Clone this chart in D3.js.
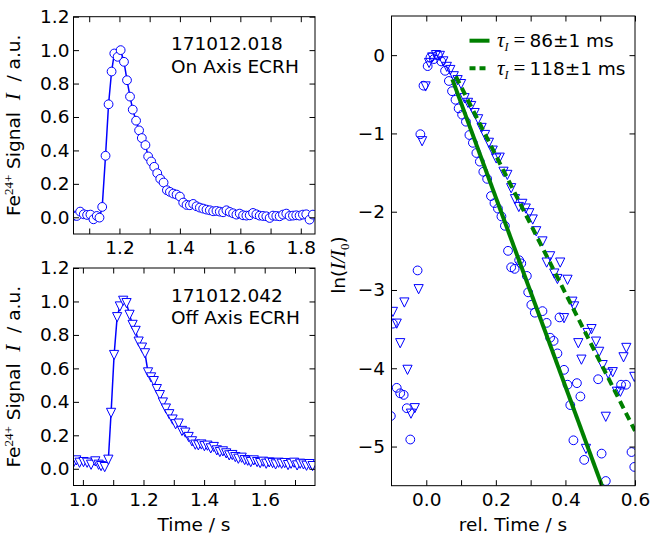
<!DOCTYPE html>
<html><head><meta charset="utf-8">
<script src="https://cdn.jsdelivr.net/npm/d3@7"></script>
<style>
body{margin:0;background:#fff;}
svg text{font-family:"DejaVu Sans",sans-serif;fill:#000;}
</style></head><body>
<svg id="c" width="651" height="536"></svg>
<script>
// ---------------- data ----------------
const onTime = [1.050,1.059,1.070,1.082,1.093,1.104,1.114,1.125,1.134,1.143,1.154,1.164,1.174,1.183,1.194,1.204,1.215,1.225,1.235,1.244,1.255,1.265,1.274,1.286,1.295,1.305,1.315,1.325,1.335,1.346,1.357,1.367,1.378,1.389,1.400,1.411,1.422,1.433,1.444,1.455,1.466,1.477,1.488,1.499,1.510,1.521,1.532,1.543,1.554,1.565,1.576,1.587,1.598,1.609,1.620,1.631,1.642,1.653,1.664,1.675,1.686,1.697,1.708,1.719,1.730,1.741,1.752,1.763,1.774,1.785,1.796,1.807,1.818,1.829,1.840];
const onSignal = [0.010,0.008,0.034,0.018,0.014,0.016,-0.012,0.008,-0.002,0.062,0.368,0.676,0.872,0.98,0.96,1.0,0.93,0.82,0.722,0.644,0.578,0.52,0.474,0.432,0.364,0.334,0.302,0.264,0.23,0.208,0.162,0.152,0.142,0.136,0.124,0.088,0.074,0.072,0.08,0.066,0.058,0.052,0.046,0.042,0.036,0.038,0.034,0.03,0.042,0.032,0.024,0.016,0.022,0.012,0.01,0.012,0.026,0.018,0.01,0.008,0.006,-0.004,0.01,0.008,0.006,0.016,0.022,0.008,0.01,0.012,0.01,0.016,0.018,-0.014,0.016];

const offTime = [0.970,0.978,0.989,1.002,1.014,1.027,1.041,1.052,1.060,1.072,1.084,1.093,1.103,1.113,1.122,1.133,1.144,1.154,1.164,1.174,1.184,1.195,1.205,1.215,1.225,1.234,1.244,1.254,1.264,1.274,1.285,1.296,1.306,1.316,1.327,1.338,1.349,1.360,1.371,1.381,1.391,1.401,1.411,1.422,1.432,1.442,1.452,1.462,1.473,1.483,1.493,1.503,1.513,1.524,1.534,1.544,1.554,1.564,1.575,1.585,1.595,1.605,1.615,1.626,1.636,1.646,1.656,1.666,1.677,1.687,1.697,1.707,1.717,1.728,1.738,1.748,1.758];
const offSignal = [0.04,0.05,0.036,0.04,0.036,0.024,0.044,0.024,0.016,0.01,0.054,0.334,0.68,0.906,0.97,1.004,0.99,0.92,0.86,0.824,0.76,0.724,0.69,0.576,0.546,0.524,0.476,0.44,0.396,0.36,0.326,0.294,0.266,0.27,0.226,0.216,0.19,0.164,0.144,0.14,0.145,0.135,0.138,0.122,0.13,0.11,0.1,0.104,0.092,0.08,0.082,0.07,0.06,0.066,0.052,0.048,0.04,0.05,0.04,0.034,0.042,0.03,0.038,0.034,0.026,0.036,0.03,0.034,0.022,0.03,0.036,0.02,0.03,0.026,0.018,0.028,0.016];

const relOnTime = [-0.102,-0.096,-0.085,-0.075,-0.065,-0.056,-0.046,-0.025,-0.017,-0.008,0.004,0.012,0.022,0.033,0.043,0.054,0.065,0.074,0.084,0.093,0.103,0.114,0.124,0.134,0.144,0.154,0.164,0.175,0.186,0.196,0.206,0.216,0.226,0.235,0.244,0.254,0.267,0.273,0.289,0.293,0.302,0.312,0.334,0.346,0.356,0.366,0.377,0.383,0.396,0.406,0.414,0.423,0.433,0.443,0.454,0.494,0.504,0.516,0.56,0.574,0.59,0.598];
const lnOn = [-4.61,-3.43,-4.25,-4.32,-4.34,-4.51,-4.91,-2.75,-1.01,-0.39,-0.14,-0.03,-0.05,0.0,-0.08,-0.2,-0.33,-0.46,-0.57,-0.68,-0.76,-0.85,-1.02,-1.12,-1.25,-1.36,-1.49,-1.58,-1.80,-1.89,-1.96,-2.06,-2.18,-2.50,-2.71,-2.73,-2.62,-2.66,-2.82,-3.03,-3.19,-3.29,-3.27,-3.42,-3.61,-3.65,-3.81,-3.35,-4.02,-4.21,-4.47,-4.92,-4.19,-4.36,-5.17,-4.14,-5.09,-5.44,-4.21,-4.21,-5.07,-5.26];

const relOffTime = [-0.096,-0.085,-0.075,-0.063,-0.054,-0.044,-0.033,-0.022,-0.012,-0.002,0.008,0.017,0.028,0.039,0.049,0.059,0.069,0.079,0.09,0.1,0.11,0.12,0.129,0.139,0.149,0.159,0.169,0.18,0.191,0.201,0.211,0.222,0.233,0.244,0.255,0.266,0.276,0.286,0.296,0.306,0.316,0.334,0.346,0.356,0.368,0.377,0.385,0.396,0.406,0.42,0.425,0.437,0.446,0.459,0.464,0.475,0.488,0.497,0.507,0.516,0.523,0.536,0.548,0.558,0.567,0.575,0.598];
const lnOff = [-3.28,-3.43,-3.68,-3.16,-4.02,-4.58,-4.51,-2.99,-1.10,-0.40,-0.10,-0.03,0.0,-0.01,-0.08,-0.15,-0.19,-0.27,-0.32,-0.37,-0.55,-0.61,-0.65,-0.74,-0.82,-0.93,-1.02,-1.12,-1.22,-1.32,-1.31,-1.49,-1.53,-1.70,-1.84,-1.94,-1.90,-1.96,-2.02,-2.10,-2.25,-2.38,-2.65,-2.57,-2.79,-2.86,-2.65,-3.36,-2.87,-3.15,-3.21,-3.68,-3.89,-5.03,-3.55,-3.50,-3.66,-3.79,-3.96,-4.62,-4.07,-4.05,-4.30,-4.30,-3.86,-3.74,-4.11];

const fitOnTime = [0.075, 0.505];
const fitOnLn = [-0.31, -5.5];
const fitOffTime = [0.085, 0.60];
const fitOffLn = [-0.27, -4.8];

const legendValues = ["86\u00b11 ms", "118\u00b11 ms"];
const shotLabels = [["171012.018", "On Axis ECRH"], ["171012.042", "Off Axis ECRH"]];
const signalTicks = [0.0, 0.2, 0.4, 0.6, 0.8, 1.0, 1.2];
const topTimeTicks = [1.1, 1.2, 1.3, 1.4, 1.5, 1.6, 1.7, 1.8];
const topTimeLabels = [1.2, 1.4, 1.6, 1.8];
const bottomTimeTicks = [1.0, 1.1, 1.2, 1.3, 1.4, 1.5, 1.6, 1.7];
const bottomTimeLabels = [1.0, 1.2, 1.4, 1.6];
const relTicks = [0.0, 0.1, 0.2, 0.3, 0.4, 0.5, 0.6];
const relLabels = [0.0, 0.2, 0.4, 0.6];
const lnTicks = [0, -1, -2, -3, -4, -5];

// ---------------- drawing ----------------
const svg = d3.select("#c");
const BLUE = "#0000ff", GREEN = "#008000";
const FS = 18.5, TICK = 5.5;
const SERIF = "'Liberation Serif','DejaVu Serif',serif";

function approx(a, list) { return list.some(v => Math.abs(v - a) < 1e-6); }

function frameAxes(g, x, y, xt, xl, yt, yl, xfmt, yfmt, xpad, ypad) {
  const [x0, x1] = x.range(), [y0, y1] = y.range();
  const style = sel => {
    sel.select(".domain").remove();
    sel.selectAll("line").attr("stroke", "#000").attr("stroke-width", 1);
    sel.selectAll("text").attr("font-size", FS).attr("font-family", "DejaVu Sans").attr("fill", "#000");
  };
  g.append("g").attr("transform", `translate(0,${y0})`)
    .call(d3.axisBottom(x).tickValues(xt).tickSize(-TICK).tickPadding(xpad)
      .tickFormat(d => approx(d, xl) ? xfmt(d) : "")).call(style);
  g.append("g").attr("transform", `translate(0,${y1})`)
    .call(d3.axisTop(x).tickValues(xt).tickSize(-TICK).tickFormat("")).call(style);
  g.append("g").attr("transform", `translate(${x0},0)`)
    .call(d3.axisLeft(y).tickValues(yt).tickSize(-TICK).tickPadding(ypad)
      .tickFormat(d => approx(d, yl) ? yfmt(d) : "")).call(style);
  g.append("g").attr("transform", `translate(${x1},0)`)
    .call(d3.axisRight(y).tickValues(yt).tickSize(-TICK).tickFormat("")).call(style);
  g.append("rect").attr("x", x0).attr("y", y1).attr("width", x1 - x0).attr("height", y0 - y1)
    .attr("fill", "none").attr("stroke", "#000").attr("stroke-width", 1);
}

function clip(id, x, y) {
  const [x0, x1] = x.range(), [y0, y1] = y.range();
  svg.append("clipPath").attr("id", id).append("rect")
    .attr("x", x0).attr("y", y1).attr("width", x1 - x0).attr("height", y0 - y1);
  return `url(#${id})`;
}

const circlePath = r => `M${r},0A${r},${r} 0 1,1 ${-r},0A${r},${r} 0 1,1 ${r},0Z`;
const triPath = r => `M0,${r}L${-r},${-r}L${r},${-r}Z`;

function signalLabel(cx, cy) {
  const t = svg.append("text").attr("transform", `translate(${cx},${cy}) rotate(-90)`)
    .attr("text-anchor", "middle").attr("font-size", FS);
  t.append("tspan").text("Fe");
  t.append("tspan").attr("font-family", SERIF).attr("font-size", 13).attr("dy", "-7.5").text("24+");
  t.append("tspan").attr("dy", "7.5").text("\u00a0Signal\u00a0\u00a0");
  t.append("tspan").attr("font-family", SERIF).attr("font-style", "italic").attr("font-size", 21).text("I");
  t.append("tspan").text("\u00a0\u00a0/ a.u.");
}

function leftPanel(times, vals, xDomain, range, xt, xl, shape, shot, id) {
  const x = d3.scaleLinear().domain(xDomain).range([73.5, 315]);
  const y = d3.scaleLinear().domain([-0.1, 1.2]).range(range);
  const g = svg.append("g");
  const pts = d3.zip(times, vals);
  const cg = g.append("g").attr("clip-path", clip(id, x, y));
  cg.append("path").datum(pts)
    .attr("d", d3.line().x(d => x(d[0])).y(d => y(d[1])))
    .attr("fill", "none").attr("stroke", BLUE).attr("stroke-width", 1.5);
  cg.selectAll("path.m").data(pts).join("path").attr("class", "m")
    .attr("transform", d => `translate(${x(d[0])},${y(d[1])})`)
    .attr("d", shape === "o" ? circlePath(4.4) : triPath(4.6))
    .attr("fill", "#fff").attr("stroke", BLUE).attr("stroke-width", 1);
  frameAxes(g, x, y, xt, xl, signalTicks, signalTicks, d3.format(".1f"), d3.format(".1f"), 7, 4);
  const tx = g.append("text").attr("x", 171).attr("y", y(1.2) + 33.5).attr("font-size", FS);
  tx.append("tspan").attr("x", 171).text(shot[0]);
  tx.append("tspan").attr("x", 171).attr("dy", 22.5).text(shot[1]);
  signalLabel(20, (range[0] + range[1]) / 2);
  return g;
}

leftPanel(onTime, onSignal, [1.048, 1.847], [234, 16.7], topTimeTicks, topTimeLabels, "o", shotLabels[0], "clipTop");
leftPanel(offTime, offSignal, [0.969, 1.766], [485.5, 268], bottomTimeTicks, bottomTimeLabels, "v", shotLabels[1], "clipBot");

svg.append("text").attr("x", 194).attr("y", 531).attr("text-anchor", "middle").attr("font-size", FS).text("Time / s");

// right panel
{
  const x = d3.scaleLinear().domain([-0.1, 0.6]).range([391.5, 635]);
  const y = d3.scaleLinear().domain([-5.5, 0.5]).range([485.7, 16]);
  const g = svg.append("g");
  const cg = g.append("g").attr("clip-path", clip("clipR", x, y));
  cg.selectAll("path.c").data(d3.zip(relOnTime, lnOn)).join("path").attr("class", "c")
    .attr("transform", d => `translate(${x(d[0])},${y(d[1])})`)
    .attr("d", circlePath(4.4)).attr("fill", "none").attr("stroke", BLUE).attr("stroke-width", 1);
  cg.selectAll("path.t").data(d3.zip(relOffTime, lnOff)).join("path").attr("class", "t")
    .attr("transform", d => `translate(${x(d[0])},${y(d[1])})`)
    .attr("d", triPath(4.6)).attr("fill", "none").attr("stroke", BLUE).attr("stroke-width", 1);
  const ln = d3.line().x(d => x(d[0])).y(d => y(d[1]));
  cg.append("path").datum(d3.zip(fitOnTime, fitOnLn)).attr("d", ln)
    .attr("fill", "none").attr("stroke", GREEN).attr("stroke-width", 4);
  cg.append("path").datum(d3.zip(fitOffTime, fitOffLn)).attr("d", ln)
    .attr("fill", "none").attr("stroke", GREEN).attr("stroke-width", 4).attr("stroke-dasharray", "8,5");
  const minus = d => d === 0 ? "0" : "\u2212" + Math.abs(d);
  frameAxes(g, x, y, relTicks, relLabels, lnTicks, lnTicks, d3.format(".1f"), minus, 7, 6.5);

  // legend
  const ly = [40.7, 68.3];
  ly.forEach((yy, i) => {
    g.append("line").attr("x1", 469.5).attr("x2", 489.5).attr("y1", yy).attr("y2", yy)
      .attr("stroke", GREEN).attr("stroke-width", 4).attr("stroke-dasharray", i ? "6,4" : null);
    const t = g.append("text").attr("x", 497).attr("y", yy + 6.5).attr("font-size", FS);
    t.append("tspan").attr("font-family", SERIF).attr("font-style", "italic").attr("font-size", 21).text("\u03c4");
    t.append("tspan").attr("font-family", SERIF).attr("font-style", "italic").attr("font-size", 12).attr("dy", 4).text("I");
    t.append("tspan").attr("font-family", SERIF).attr("font-size", 21).attr("dy", -4).attr("dx", 5).text("=");
    t.append("tspan").attr("dx", 4).text(legendValues[i]);
  });

  const yl = svg.append("text").attr("transform", `translate(345,265) rotate(-90)`)
    .attr("text-anchor", "middle").attr("font-size", FS);
  yl.append("tspan").text("ln(");
  yl.append("tspan").attr("font-family", SERIF).attr("font-style", "italic").attr("font-size", 21).text("I/I");
  yl.append("tspan").attr("font-family", SERIF).attr("font-size", 13).attr("dy", 4).text("0");
  yl.append("tspan").attr("dy", -4).text(")");

  svg.append("text").attr("x", 513).attr("y", 531).attr("text-anchor", "middle").attr("font-size", FS).text("rel. Time / s");
}
</script>
</body></html>
